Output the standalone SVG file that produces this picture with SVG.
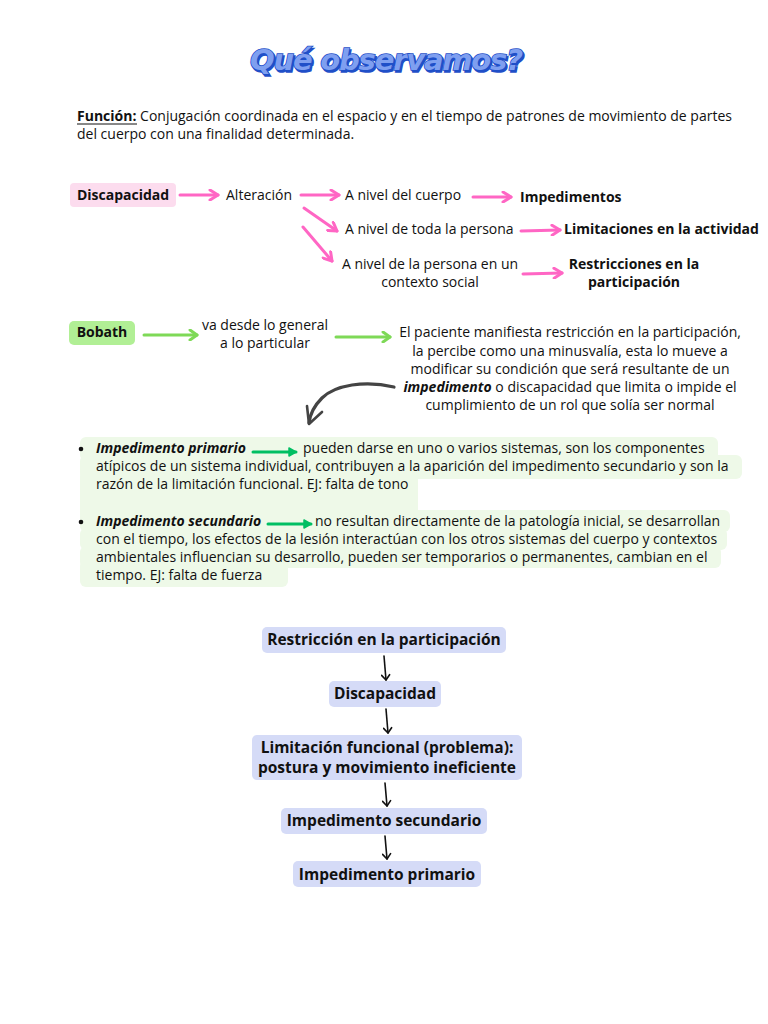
<svg xmlns="http://www.w3.org/2000/svg" width="768" height="1024" viewBox="0 0 768 1024">
<defs>
<style>
text{font-family:"Open Sans","Noto Sans","DejaVu Sans",sans-serif;font-size:14px;fill:#111;}
.b{font-weight:700;}
.bi{font-weight:700;font-style:italic;}
.c{text-anchor:middle;}
.fl{font-size:15.5px;font-weight:700;}
.title{font-family:"DejaVu Sans","Liberation Sans",sans-serif;font-size:29px;font-weight:700;font-style:italic;fill:#7f9ff0;stroke:#1f4fc8;stroke-width:1.6px;letter-spacing:1px;paint-order:stroke;}
.pink{stroke:#ff66c4;stroke-width:3;fill:none;stroke-linecap:round;}
.lg{stroke:#7ed957;stroke-width:3;fill:none;stroke-linecap:round;}
.dg{stroke:#00bf63;stroke-width:3;fill:none;stroke-linecap:round;}
.blk{stroke:#111;stroke-width:1.6;fill:none;stroke-linecap:round;}
.fbox{fill:#d5dbf7;}
</style>
<marker id="mp" viewBox="0 0 12 12" refX="10" refY="6" markerWidth="12" markerHeight="12" markerUnits="userSpaceOnUse" orient="auto">
<path d="M2,1 L10,6 L2,11" fill="none" stroke="#ff66c4" stroke-width="3" stroke-linecap="round" stroke-linejoin="round"/>
</marker>
<marker id="mlg" viewBox="0 0 12 12" refX="10" refY="6" markerWidth="12" markerHeight="12" markerUnits="userSpaceOnUse" orient="auto">
<path d="M3,1 L10,6 L3,11" fill="none" stroke="#7ed957" stroke-width="3" stroke-linecap="round" stroke-linejoin="round"/>
</marker>
<marker id="mdg" viewBox="0 0 10 10" refX="9" refY="5" markerWidth="10" markerHeight="10" markerUnits="userSpaceOnUse" orient="auto">
<path d="M2,1 L9,5 L2,9 Z" fill="#00bf63" stroke="#00bf63" stroke-width="1.5" stroke-linejoin="round"/>
</marker>
<marker id="mb" viewBox="0 0 10 10" refX="9" refY="5" markerWidth="10" markerHeight="10" markerUnits="userSpaceOnUse" orient="auto">
<path d="M4,1 L9,5 L4,9" fill="none" stroke="#111" stroke-width="1.6" stroke-linecap="round" stroke-linejoin="round"/>
</marker>
</defs>
<rect width="768" height="1024" fill="#ffffff"/>

<g id="title">
<text x="387" y="70" class="title c" style="fill:#1f4fc8;stroke:#1f4fc8;" transform="translate(1.5,1.5)" textLength="274">Qué observamos?</text>
<text x="387" y="70" class="title c" textLength="274">Qué observamos?</text>
</g>

<g id="funcion">
<text x="77" y="121"><tspan class="b">Función:</tspan> Conjugación coordinada en el espacio y en el tiempo de patrones de movimiento de partes</text>
<line x1="77" y1="124" x2="137" y2="124" stroke="#111" stroke-width="1"/>
<text x="77" y="139">del cuerpo con una finalidad determinada.</text>
</g>

<g id="n-discapacidad">
<rect x="70" y="183" width="106" height="24" rx="4" fill="#fcdcee"/>
<text x="123" y="200" class="b c">Discapacidad</text>
</g>
<g id="n-alteracion"><text x="226" y="200">Alteración</text></g>
<g id="n-cuerpo"><text x="345" y="200">A nivel del cuerpo</text></g>
<g id="n-impedimentos"><text x="520" y="202" class="b">Impedimentos</text></g>
<g id="n-persona"><text x="345" y="234">A nivel de toda la persona</text></g>
<g id="n-limitaciones"><text x="564" y="234" class="b">Limitaciones en la actividad</text></g>
<g id="n-contexto">
<text x="430" y="269" class="c">A nivel de la persona en un</text>
<text x="430" y="287" class="c">contexto social</text>
</g>
<g id="n-restricciones">
<text x="634" y="269" class="b c">Restricciones en la</text>
<text x="634" y="287" class="b c">participación</text>
</g>

<g id="n-bobath">
<rect x="69" y="321" width="66" height="24" rx="5" fill="#b1ef95"/>
<text x="102" y="337" class="b c">Bobath</text>
</g>
<g id="n-general">
<text x="265" y="330" class="c">va desde lo general</text>
<text x="265" y="348" class="c">a lo particular</text>
</g>
<g id="n-paciente">
<text x="570" y="337" class="c">El paciente manifiesta restricción en la participación,</text>
<text x="570" y="356" class="c">la percibe como una minusvalía, esta lo mueve a</text>
<text x="570" y="374" class="c">modificar su condición que será resultante de un</text>
<text x="570" y="392" class="c"><tspan class="bi">impedimento</tspan> o discapacidad que limita o impide el</text>
<text x="570" y="410" class="c">cumplimiento de un rol que solía ser normal</text>
</g>

<g id="bullets">
<g fill="#eef9e8">
<rect x="80" y="437" width="638" height="24" rx="6"/>
<rect x="80" y="455" width="662" height="24" rx="6"/>
<rect x="80" y="470" width="338" height="50" rx="6"/>
<rect x="80" y="510" width="650" height="22" rx="6"/>
<rect x="80" y="528" width="647" height="22" rx="6"/>
<rect x="80" y="546" width="641" height="22" rx="6"/>
<rect x="80" y="560" width="208" height="27" rx="6"/>
</g>
<g id="n-primario">
<circle cx="81" cy="449" r="2.3" fill="#111"/>
<text x="96" y="453"><tspan class="bi">Impedimento primario</tspan></text>
<text x="303" y="453">pueden darse en uno o varios sistemas, son los componentes</text>
<text x="96" y="471">atípicos de un sistema individual, contribuyen a la aparición del impedimento secundario y son la</text>
<text x="96" y="489">razón de la limitación funcional. EJ: falta de tono</text>
</g>
<g id="n-secundario">
<circle cx="81" cy="522" r="2.3" fill="#111"/>
<text x="96" y="526"><tspan class="bi">Impedimento secundario</tspan></text>
<text x="315" y="526">no resultan directamente de la patología inicial, se desarrollan</text>
<text x="96" y="544">con el tiempo, los efectos de la lesión interactúan con los otros sistemas del cuerpo y contextos</text>
<text x="96" y="562">ambientales influencian su desarrollo, pueden ser temporarios o permanentes, cambian en el</text>
<text x="96" y="580">tiempo. EJ: falta de fuerza</text>
</g>
</g>

<g id="f-restriccion">
<rect x="262" y="627" width="244" height="26" rx="5" class="fbox"/>
<text x="384" y="645" class="fl c">Restricción en la participación</text>
</g>
<g id="f-discapacidad">
<rect x="329" y="681" width="112" height="26" rx="5" class="fbox"/>
<text x="385" y="699" class="fl c">Discapacidad</text>
</g>
<g id="f-limitacion">
<rect x="252" y="735" width="270" height="45" rx="5" class="fbox"/>
<text x="387" y="753" class="fl c">Limitación funcional (problema):</text>
<text x="387" y="773" class="fl c">postura y movimiento ineficiente</text>
</g>
<g id="f-secundario">
<rect x="281" y="808" width="206" height="26" rx="5" class="fbox"/>
<text x="384" y="826" class="fl c">Impedimento secundario</text>
</g>
<g id="f-primario">
<rect x="293" y="861" width="188" height="26" rx="5" class="fbox"/>
<text x="387" y="880" class="fl c">Impedimento primario</text>
</g>

<g id="connectors">
<path class="pink" d="M180,195 L218,195" marker-end="url(#mp)"/>
<path class="pink" d="M301,195 L339,195" marker-end="url(#mp)"/>
<path class="pink" d="M473,197 L511,197" marker-end="url(#mp)"/>
<path class="pink" d="M304,208 L337,231" marker-end="url(#mp)"/>
<path class="pink" d="M303,227 L332,261" marker-end="url(#mp)"/>
<path class="pink" d="M521,231 L560,230" marker-end="url(#mp)"/>
<path class="pink" d="M523,274 L562,273" marker-end="url(#mp)"/>
<path class="lg" d="M144,335 L197,335" marker-end="url(#mlg)"/>
<path class="lg" d="M336,337 L390,337" marker-end="url(#mlg)"/>
<path class="dg" d="M253,452 L296,452" marker-end="url(#mdg)"/>
<path class="dg" d="M268,524 L311,524" marker-end="url(#mdg)"/>
<path d="M394,387 C365,380 335,385 322,398 C314,406 310,414 309,423" fill="none" stroke="#444" stroke-width="3.2" stroke-linecap="round"/>
<path d="M307,406 L309,424 L322,412" fill="none" stroke="#444" stroke-width="2.6" stroke-linecap="round" stroke-linejoin="round"/>
<path class="blk" d="M384,656 L386,680" marker-end="url(#mb)"/>
<path class="blk" d="M386,709 L388,733" marker-end="url(#mb)"/>
<path class="blk" d="M385,783 L387,806" marker-end="url(#mb)"/>
<path class="blk" d="M385,836 L387,859" marker-end="url(#mb)"/>
</g>
</svg>
